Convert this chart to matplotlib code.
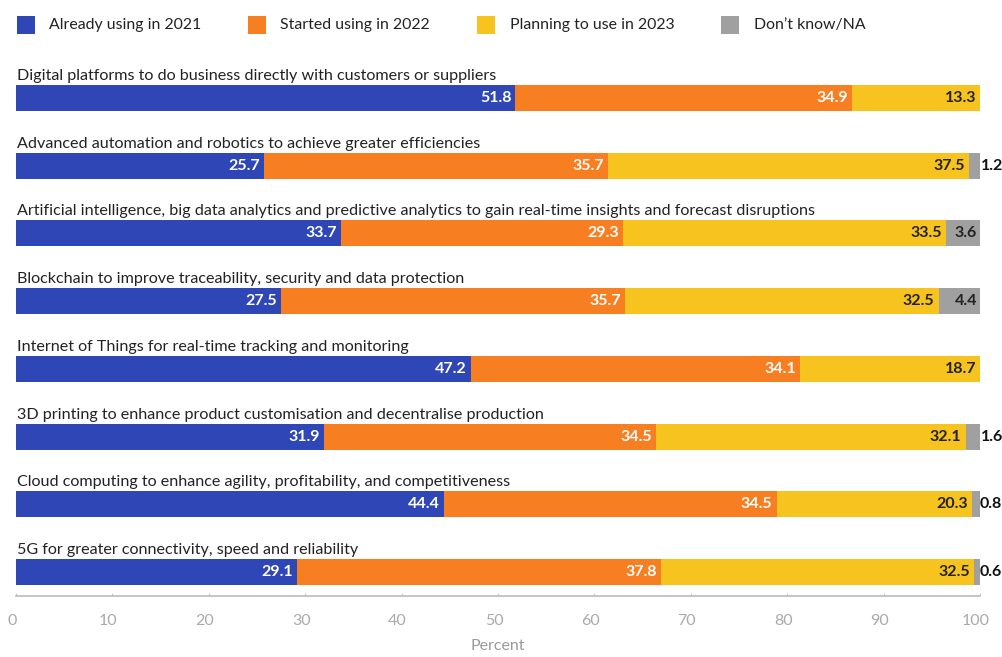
import matplotlib
matplotlib.use("Agg")
import matplotlib.pyplot as plt
from matplotlib.patches import Rectangle
from matplotlib.transforms import ScaledTranslation
import numpy as np

categories = [
    "Digital platforms to do business directly with customers or suppliers",
    "Advanced automation and robotics to achieve greater efficiencies",
    "Artificial intelligence, big data analytics and predictive analytics to gain real-time insights and forecast disruptions",
    "Blockchain to improve traceability, security and data protection",
    "Internet of Things for real-time tracking and monitoring",
    "3D printing to enhance product customisation and decentralise production",
    "Cloud computing to enhance agility, profitability, and competitiveness",
    "5G for greater connectivity, speed and reliability",
]
already_2021 = [51.8, 25.7, 33.7, 27.5, 47.2, 31.9, 44.4, 29.1]
started_2022 = [34.9, 35.7, 29.3, 35.7, 34.1, 34.5, 34.5, 37.8]
planning_2023 = [13.3, 37.5, 33.5, 32.5, 18.7, 32.1, 20.3, 32.5]
dont_know = [0.0, 1.2, 3.6, 4.4, 0.0, 1.6, 0.8, 0.6]
series_names = ["Already using in 2021", "Started using in 2022", "Planning to use in 2023", "Don\u2019t know/NA"]
x_ticks = [0, 10, 20, 30, 40, 50, 60, 70, 80, 90, 100]

colors = ["#2E46B6", "#F77E21", "#F7C31E", "#A0A0A0"]
text_colors = ["white", "white", "#222222", "#222222"]

plt.rcParams['font.family'] = ['Lato', 'DejaVu Sans']

W, H = 1003, 657
fig = plt.figure(figsize=(W / 100, H / 100), dpi=100)

ax_left, ax_right = 16, 980
ax_top, ax_bottom = 50, 596
ax = fig.add_axes([ax_left / W, 1 - ax_bottom / H, (ax_right - ax_left) / W, (ax_bottom - ax_top) / H])

spacing = 67.7
ylim_bottom = 7 + (ax_bottom - 572) / spacing
ylim_top = -(98 - ax_top) / spacing
ax.set_ylim(ylim_bottom, ylim_top)
ax.set_xlim(0, 100)

bar_h = 26 / spacing
y = np.arange(len(categories))
series = [already_2021, started_2022, planning_2023, dont_know]
left = np.zeros(len(categories))
pad = ScaledTranslation(-4 / 100, 0, fig.dpi_scale_trans)
pad_out = ScaledTranslation(0 / 100, 0, fig.dpi_scale_trans)
for s_idx, vals in enumerate(series):
    vals = np.array(vals)
    ax.barh(y, vals, left=left, height=bar_h, color=colors[s_idx], linewidth=0)
    for i, v in enumerate(vals):
        if v <= 0:
            continue
        end = left[i] + v
        if v < 2:
            ax.text(end, y[i], f"{v:.1f}", ha="left", va="center", fontsize=11.5,
                    fontweight="bold", color="#111111", transform=ax.transData + pad_out)
        else:
            ax.text(end, y[i], f"{v:.1f}", ha="right", va="center", fontsize=11.5,
                    fontweight="bold", color=text_colors[s_idx], transform=ax.transData + pad)
    left = left + vals

for i, cat in enumerate(categories):
    ax.text(0.1, y[i] - bar_h / 2 - 5 / spacing, cat, ha="left", va="baseline",
            fontsize=11.6, color="#222222")

for side in ["top", "right", "left"]:
    ax.spines[side].set_visible(False)
ax.spines["bottom"].set_color("#BBBBBB")
ax.spines["bottom"].set_linewidth(1.2)
ax.set_yticks([])
ax.set_xticks(x_ticks)
ax.set_xticklabels([str(t) for t in x_ticks])
ax.tick_params(axis="x", length=2, direction="in", color="#CCCCCC", labelsize=11.5,
               labelcolor="#AAAAAA", pad=13)
for lbl in ax.get_xticklabels():
    lbl.set_transform(lbl.get_transform() + ScaledTranslation(-4 / 100, 0, fig.dpi_scale_trans))
ax.set_xlabel("Percent", fontsize=11.5, color="#999999", labelpad=8)

# legend
legend_sq_x = [17, 248, 477, 721]
legend_tx_x = [49, 280, 510, 754]
for k, name in enumerate(series_names):
    fig.add_artist(Rectangle((legend_sq_x[k] / W, 1 - 34 / H), 18 / W, 18 / H,
                             transform=fig.transFigure, color=colors[k], linewidth=0))
    fig.text(legend_tx_x[k] / W, 1 - 25 / H, name, ha="left", va="center",
             fontsize=11.4, color="#222222")

fig.savefig("out.png", dpi=100)
